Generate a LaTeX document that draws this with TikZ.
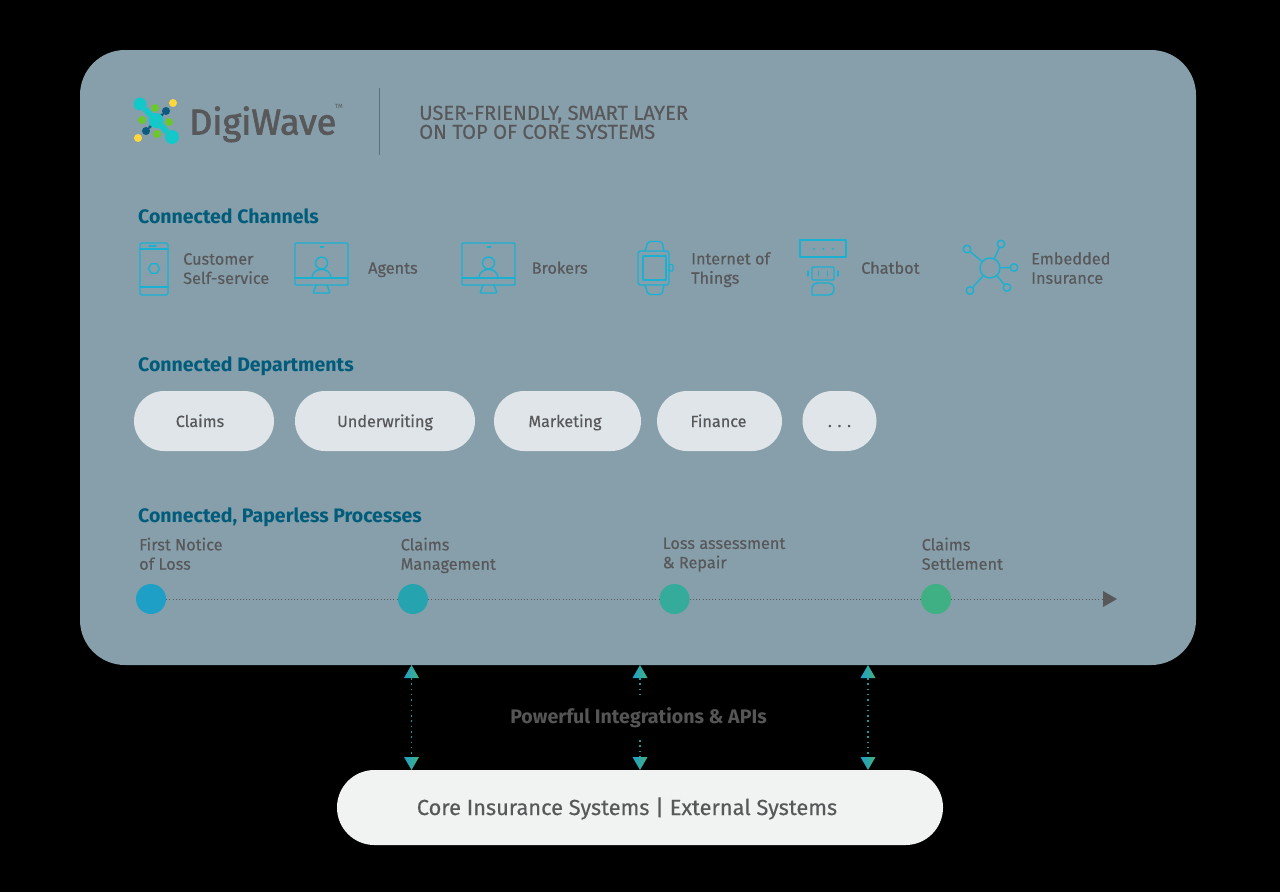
\documentclass[tikz,border=0pt]{standalone}
\usepackage{fontspec}
\setmainfont{Fira Sans}
\newfontfamily\medf[FakeBold=0.35]{Fira Sans}
\newfontfamily\brandf[FakeBold=2.0]{Fira Sans}
\usetikzlibrary{shapes.geometric}
\definecolor{panelc}{HTML}{869FAA}
\definecolor{pillc}{HTML}{DFE5E8}
\definecolor{corec}{HTML}{F1F3F3}
\definecolor{txtc}{HTML}{58585A}
\definecolor{headc}{HTML}{005C7A}
\definecolor{iconc}{HTML}{19B1D2}
\definecolor{intc}{HTML}{555555}
\definecolor{logot}{HTML}{14C7C9}
\definecolor{logod}{HTML}{0B5C80}
\definecolor{logog}{HTML}{6CC72C}
\definecolor{logoy}{HTML}{FFD93B}
\definecolor{dotc}{HTML}{1A9AA0}
\definecolor{arl}{HTML}{1E9FCB}
\definecolor{arr}{HTML}{45B27C}
\newcommand{\mystrut}{\vrule height 14pt depth 0pt width 0pt\relax}
\tikzset{
  x=1pt,y=-1pt,
  basetext/.style={anchor=north west,yshift=14pt,inner sep=0pt,align=left,execute at begin node=\mystrut},
  head/.style={basetext,text=headc,font=\fontsize{19.5}{22}\selectfont\bfseries},
  lab/.style={basetext,text=txtc,font=\fontsize{16.3}{19.3}\selectfont\medf},
  deptpill/.style={rounded corners=29.9pt,fill=pillc,text=txtc,inner sep=0pt,minimum height=60pt,text height=12pt,text depth=0pt,font=\fontsize{16.2}{19.3}\selectfont\medf},
  icon/.style={draw=iconc,line width=1.4pt,line join=round,line cap=round},
  tdot/.style={circle,inner sep=0pt,minimum size=30pt},
  track/.style={draw=txtc,line width=1pt,dash pattern=on 1pt off 2.2pt},
  link/.style={draw=dotc,line width=1.5pt,dash pattern=on 1.5pt off 3.8pt},
  lg/.style={circle,inner sep=0pt},
  sat/.style={icon,circle,minimum size=7.5pt,inner sep=0pt},
}
\begin{document}
\begin{tikzpicture}
\useasboundingbox (0,0) rectangle (1280,892);
\fill[black] (0,0) rectangle (1280,892);
% panel
\node[fill=panelc,rounded corners=45pt,minimum width=1116pt,minimum height=615pt,inner sep=0pt] (panel) at (638,357.5) {};
% logo
\node[lg,fill=logot,minimum size=13pt] (lA) at (140,104) {};
\node[lg,fill=logot,minimum size=14pt] (lB) at (172,137) {};
\draw[logot,line width=6pt] (lA) -- (lB);
\node[lg,fill=logod,minimum size=8pt] (lD) at (166,111) {};
\node[lg,fill=logod,minimum size=8pt] (lE) at (146,131) {};
\coordinate (lM) at (156,120.5);
\draw[logod,line width=2.5pt] (lD) -- (lM);
\draw[logod,line width=2.5pt] (lE) -- (lM);
\node[lg,fill=logot,minimum size=15pt] (lC) at (156,120.5) {};
\node[lg,fill=logoy,minimum size=8pt] (lF) at (173,103) {};
\node[lg,fill=logoy,minimum size=8pt] (lG) at (138,138) {};
\node[lg,fill=logog,minimum size=8pt] (lH) at (155,108) {};
\node[lg,fill=logog,minimum size=8pt] (lI) at (142,120) {};
\node[lg,fill=logog,minimum size=8pt] (lJ) at (169,122) {};
\node[lg,fill=logog,minimum size=8pt] (lK) at (157,134) {};
\node[anchor=base west,inner sep=0pt,text=txtc,font=\fontsize{36}{40}\selectfont\brandf] (brand) at (189,134.5) {DigiWave};
\node[anchor=west,inner sep=0pt,text=txtc,font=\fontsize{6}{7}\selectfont] (tm) at (335,106) {TM};
\draw[color=panelc!70!black,line width=1pt] (379,88) -- (379,155);
\node[basetext,text=txtc,font=\fontsize{20.2}{19}\selectfont\medf] (tag) at (419,119.5) {USER-FRIENDLY, SMART LAYER\\ON TOP OF CORE SYSTEMS};
% channels
\node[head] (h1) at (138,222.5) {Connected Channels};
\draw[icon,rounded corners=1.5pt] (140,243) rectangle (168,295);
\draw[icon] (140,249) -- (168,249) (140,287) -- (168,287) (149,246) -- (156,246);
\node[icon,regular polygon,regular polygon sides=6,minimum size=11pt,inner sep=0pt] (hex) at (154,268.5) {};
\node[lab] (t1) at (183,267) {Customer\\Self-service};
\foreach \o/\n in {0/a,167/b}{
  \begin{scope}[xshift=\o pt]
  \draw[icon,rounded corners=1pt] (295,243) rectangle (348,285);
  \draw[icon] (295,278) -- (348,278) (320.5,247) -- (323.5,247);
  \node[icon,circle,minimum size=12pt,inner sep=0pt] (head\n) at (321.5,263) {};
  \draw[icon] (312,278) .. controls (312,266.5) and (331,266.5) .. (331,278);
  \draw[icon,rounded corners=1pt] (316,285) -- (313,293) -- (330,293) -- (327,285);
  \end{scope}
}
\node[lab] (t2) at (368,273.5) {Agents};
\node[lab] (t3) at (531.5,273.5) {Brokers};
% watch
\draw[icon,rounded corners=2.5pt] (638,251) rectangle (669,285);
\draw[icon] (643,256) rectangle (666,280);
\draw[icon,rounded corners=2pt] (645,251) -- (648,241.5) -- (662,241.5) -- (664,251);
\draw[icon,rounded corners=2pt] (645,285) -- (648,294.5) -- (662,294.5) -- (664,285);
\draw[icon,rounded corners=1pt] (669,264.5) rectangle (673,271);
\node[lab] (t4) at (691,266) {Internet of\\Things};
% chatbot
\draw[icon] (800,240) rectangle (846,257);
\fill[iconc] (814,249) circle (1.2pt) (823.5,249) circle (1.2pt) (833,249) circle (1.2pt);
\draw[icon,rounded corners=1pt] (812,267) rectangle (834,280);
\draw[icon] (818.5,271) -- (818.5,276) (827.5,271) -- (827.5,276) (808,271) -- (808,276) (838,271) -- (838,276);
\draw[icon] (812,295) {[rounded corners=5pt] -- (812,283) -- (834,283) -- (834,295)} -- cycle;
\node[lab] (t5) at (861,273.5) {Chatbot};
% network
\node[icon,circle,minimum size=20pt,inner sep=0pt] (nc) at (990,268) {};
\node[sat] (n1) at (967,249) {};
\node[sat] (n2) at (1001,244) {};
\node[sat] (n3) at (1014,267.5) {};
\node[sat] (n4) at (1007,287.5) {};
\node[sat] (n5) at (970,290.5) {};
\foreach \k in {1,...,5}{\draw[icon] (nc) -- (n\k);}
\node[lab] (t6) at (1031,266) {Embedded\\Insurance};
% departments
\node[head] (h2) at (138,370) {Connected Departments};
\node[deptpill,minimum width=140pt] (d1) at (204,421) {Claims\hspace*{8pt}\null};
\node[deptpill,minimum width=180pt] (d2) at (385,421) {Underwriting};
\node[deptpill,minimum width=147pt] (d3) at (567.5,421) {Marketing\hspace*{5pt}\null};
\node[deptpill,minimum width=125pt] (d4) at (719.5,421) {Finance\hspace*{2pt}\null};
\node[deptpill,minimum width=74pt] (d5) at (839.5,421) {. . .};
% processes
\node[head] (h3) at (138,521.5) {Connected, Paperless Processes};
\node[lab] (p1) at (139,551.5) {First Notice\\of Loss};
\node[lab] (p2) at (400.5,551.5) {Claims\\Management};
\node[lab] (p3) at (662.5,551.5) {Loss assessment\\\& Repair};
\node[lab] (p4) at (921.5,551.5) {Claims\\Settlement};
\node[tdot,fill={rgb,255:red,30;green,159;blue,197}] (c1) at (151,599) {};
\node[tdot,fill={rgb,255:red,37;green,164;blue,176}] (c2) at (413,599) {};
\node[tdot,fill={rgb,255:red,53;green,171;blue,155}] (c3) at (674.5,599) {};
\node[tdot,fill={rgb,255:red,63;green,176;blue,131}] (c4) at (936,599) {};
\coordinate (tend) at (1103,599);
\draw[track] (c1) -- (c2);
\draw[track] (c2) -- (c3);
\draw[track] (c3) -- (c4);
\draw[track] (c4) -- (tend);
\fill[color=txtc] (1103,591) -- (1117,599) -- (1103,607) -- cycle;
% core
\node[fill=corec,rounded corners=37.4pt,minimum width=606pt,minimum height=75pt,inner sep=0pt,text=txtc,text height=15pt,text depth=0pt,font=\fontsize{21.8}{25}\selectfont\medf] (core) at (640,807.5) {Core Insurance Systems | External Systems\hspace*{26pt}\null};
\node[inner sep=0pt,text=intc,font=\fontsize{19.6}{22}\selectfont\bfseries] (api) at (638.5,717.5) {Powerful Integrations \& APIs};
% links
\foreach \x/\n in {411.5/a,640/b,868/c}{
  \coordinate (u\n) at (\x,678);
  \coordinate (v\n) at (\x,757);
  \shade[left color=arl,right color=arr] (\x-7.5,678) -- (\x,665) -- (\x+7.5,678) -- cycle;
  \shade[left color=arl,right color=arr] (\x-7.5,757) -- (\x,770) -- (\x+7.5,757) -- cycle;
}
\draw[link] (ua) -- (va);
\draw[link] (uc) -- (vc);
\coordinate (ub2) at (640,697);
\coordinate (vb2) at (640,740);
\draw[link] (ub) -- (ub2);
\draw[link] (vb2) -- (vb);
\end{tikzpicture}
\end{document}
